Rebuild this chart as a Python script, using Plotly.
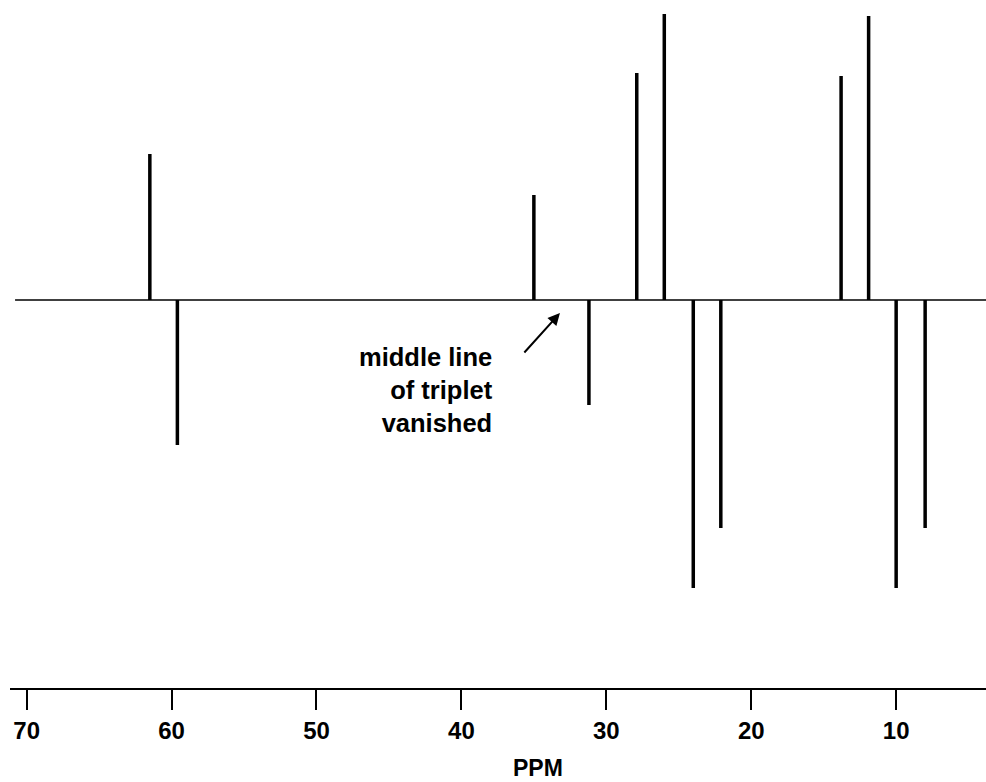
import plotly.graph_objects as go

# Chemical shifts (ppm) and signed intensities (arbitrary units) of the spectrum lines
shifts = [61.5, 59.6, 35.0, 31.2, 27.9, 26.0, 24.0, 22.1, 13.8, 11.9, 10.0, 8.0]
intensities = [146, -145, 105, -105, 227, 286, -288, -228, 224, 284, -288, -228]

tick_values = [70, 60, 50, 40, 30, 20, 10]
tick_labels = ["70", "60", "50", "40", "30", "20", "10"]

baseline_x = [70.8, 3.8]
baseline_y = [0, 0]

FONT = "Liberation Sans, Arial, Helvetica, sans-serif"

xs, ys = [], []
for s, h in zip(shifts, intensities):
    xs += [s, s, None]
    ys += [0, h, None]

fig = go.Figure()
fig.add_trace(go.Scatter(x=baseline_x, y=baseline_y, mode="lines",
                         line=dict(color="black", width=1.6), hoverinfo="skip"))
fig.add_trace(go.Scatter(x=xs, y=ys, mode="lines",
                         line=dict(color="black", width=3.5), hoverinfo="skip"))

fig.add_annotation(x=37.7, y=-90, xref="x", yref="y",
                   text="middle line<br>of triplet<br>vanished",
                   showarrow=False, xanchor="right", yanchor="middle", align="right",
                   font=dict(family=FONT, size=25.5, color="black", weight="bold"))
fig.add_annotation(x=33.2, y=-13, ax=35.75, ay=-54, xref="x", yref="y",
                   axref="x", ayref="y", text="", showarrow=True,
                   arrowhead=2, arrowsize=1.2, arrowwidth=2, arrowcolor="black")
fig.add_annotation(x=34.7, y=0, xref="x", yref="paper", yshift=-80,
                   text="PPM", showarrow=False, xanchor="center", yanchor="middle",
                   font=dict(family=FONT, size=23, color="black", weight="bold"))

fig.update_layout(
    width=986, height=782,
    margin=dict(l=10, r=0, t=10, b=94),
    paper_bgcolor="white", plot_bgcolor="white",
    showlegend=False,
    xaxis=dict(range=[71.15, 3.8], showgrid=False, zeroline=False,
               showline=True, linecolor="black", linewidth=2,
               ticks="outside", ticklen=20, tickwidth=1.5, tickcolor="black",
               tickvals=tick_values, ticktext=tick_labels,
               ticklabelstandoff=0,
               tickfont=dict(family=FONT, size=24, color="black", weight="bold")),
    yaxis=dict(range=[-388, 290], visible=False, showgrid=False, zeroline=False),
)

fig.write_html("out.html", config={"displayModeBar": False},
               post_script="document.body.style.margin='0';document.body.style.overflow='hidden';")
